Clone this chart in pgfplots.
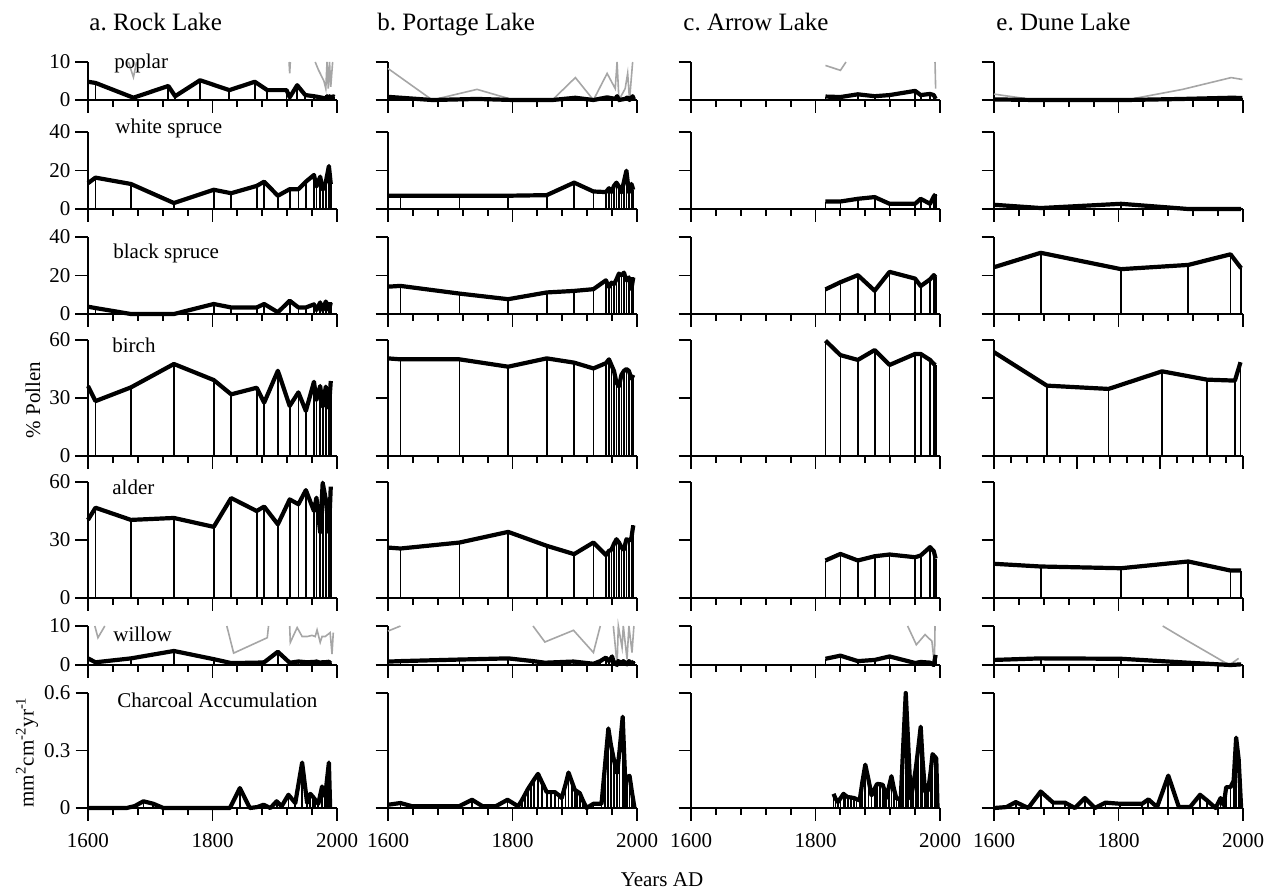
\documentclass[border=0pt]{standalone}
\usepackage{fontspec}
\setmainfont{Liberation Serif}
\usepackage{pgfplots}
\usepackage{pgfplotstable}
\pgfplotsset{compat=1.18}
\frenchspacing

\pgfplotsset{
  lake/.style={
    scale only axis, width=124.5pt, anchor=south west,
    xmin=1600, xmax=2000, ymin=0,
    axis x line=bottom, axis y line=left,
    axis line style={-, line width=0.95pt},
    tick align=outside,
    tick style={black, line width=0.95pt},
    major tick length=6.25pt, minor tick length=3.25pt,
    xtick={1600,1800,2000},
    minor xtick={1640,1680,1720,1760,1840,1880,1920,1960},
    xticklabels={}, yticklabels={},
    tick label style={font=\fontsize{10.5}{12}\selectfont},
    xticklabel style={yshift=-3pt},
    yticklabel style={xshift=1pt},
    clip=false, unbounded coords=jump,
  },
  pop/.style={lake, height=19pt, ymax=10, ytick={0,10}},
  spr/.style={lake, height=38.5pt, ymax=40, ytick={0,20,40}},
  big/.style={lake, height=58pt, ymax=60, ytick={0,30,60}},
  wil/.style={lake, height=19.5pt, ymax=10, ytick={0,10}},
  chr/.style={lake, height=57.5pt, ymax=0.6, ytick={0,0.3,0.6}, xticklabels={1600,1800,2000}},
  comb/.style={ycomb, black, line width=0.9pt, mark=none},
  curve/.style={black, line width=2.1pt, line join=round, mark=none},
  rare/.style={black!35, line width=0.8pt, mark=none},
}
\newcommand{\pan}[1]{\addplot[comb] table {#1};\addplot[curve] table {#1};}

\begin{document}
% ---------- a. Rock Lake ----------
\pgfplotstableread[row sep=crcr]{x y\\1600 4.8\\1612 4.5\\1673 0.6\\1729 3.7\\1740 1.0\\1780 5.2\\1827 2.6\\1868 4.8\\1888 2.6\\1919 2.6\\1924 0.7\\1936 3.9\\1949 1.3\\1963 1.0\\1970 0.8\\1979 0.5\\1982 0.3\\1984 1.0\\1986 0.3\\1988 1.0\\1990 0.35\\1993 1.0\\1996 0.8\\}\RLpop
\pgfplotstableread[row sep=crcr]{x y\\1665 10\\1673 6\\1678 10\\nan nan\\1923 10\\1924 7\\1925 10\\nan nan\\1965 10\\1970 8\\1979 5\\1982 3\\1984 10\\1986 3\\1988 10\\1990 3.5\\1993 10\\}\RLpopg
\pgfplotstableread[row sep=crcr]{x y\\1600 13.4\\1612 16.3\\1669 13\\1738 3.1\\1802 10\\1830 8.2\\1871 12\\1883 14.2\\1905 6.9\\1924 10.3\\1938 10.3\\1950 14.2\\1963 17.7\\1967 11.7\\1973 16.8\\1977 10\\1982 14\\1987 22.3\\1990 13\\}\RLws
\pgfplotstableread[row sep=crcr]{x y\\1600 3.8\\1612 3.1\\1669 0\\1738 0\\1802 5.2\\1830 3.4\\1871 3.4\\1883 5.2\\1905 0.9\\1924 6.9\\1938 3.4\\1950 3.4\\1963 5\\1967 2\\1973 6\\1977 2\\1982 6.5\\1987 2\\1990 6\\}\RLbs
\pgfplotstableread[row sep=crcr]{x y\\1600 36.2\\1612 28.4\\1669 35.5\\1738 47.6\\1802 39.3\\1830 31.9\\1871 35.3\\1883 27.6\\1905 44.1\\1924 25.9\\1938 32.9\\1950 23.3\\1963 38.4\\1967 29\\1973 36.2\\1977 25.5\\1982 35.9\\1987 24.7\\1990 38.8\\}\RLbi
\pgfplotstableread[row sep=crcr]{x y\\1600 40.4\\1612 46.7\\1669 40.4\\1738 41.4\\1802 36.8\\1830 51.7\\1871 45\\1883 47.3\\1905 38.1\\1924 51\\1938 48.5\\1950 55.8\\1963 45\\1967 51.9\\1973 33.8\\1977 59.6\\1982 51\\1987 33.8\\1990 57.6\\}\RLal
\pgfplotstableread[row sep=crcr]{x y\\1600 1.7\\1612 0.7\\1669 1.7\\1738 3.6\\1802 1.5\\1830 0.5\\1871 0.6\\1883 0.7\\1905 3.4\\1924 0.58\\1938 0.9\\1950 0.73\\1963 0.76\\1967 0.9\\1973 0.58\\1977 0.73\\1982 0.73\\1987 0.83\\1990 0.4\\}\RLwi
\pgfplotstableread[row sep=crcr]{x y\\1611 10\\1616 7\\1627 10\\nan nan\\1823 10\\1834 3.05\\1888 7\\1890 10\\nan nan\\1924 10\\1925 5.8\\1936 9.6\\1944 7.3\\1952 7.3\\1960 7.6\\1965 7.3\\1968 9\\1973 5.8\\1976 7.3\\1981 7.3\\1989 8.3\\1992 2.8\\1994 8.3\\}\RLwig
\pgfplotstableread[row sep=crcr]{x y\\1600 0\\1662 0\\1675 0.01\\1689 0.035\\1705 0.022\\1721 0\\1828 0\\1844 0.104\\1860 0\\1872 0.005\\1882 0.017\\1893 0\\1903 0.035\\1911 0.009\\1922 0.069\\1933 0.026\\1944 0.237\\1952 0.026\\1957 0.074\\1961 0.06\\1965 0.043\\1970 0.022\\1976 0.112\\1981 0.06\\1984 0.15\\1987 0.237\\1989 0\\}\RLch

% ---------- b. Portage Lake ----------
\pgfplotstableread[row sep=crcr]{x y\\1600 0.83\\1671 0\\1743 0.28\\1802 0\\1864 0\\1901 0.59\\1930 0\\1952 0.7\\1965 0.3\\1968 1.0\\1971 0\\1981 0.3\\1985 0.7\\1988 0\\1993 1.0\\1995 0.2\\}\PLpop
\pgfplotstableread[row sep=crcr]{x y\\1600 8.3\\1671 0\\1743 2.8\\1802 0\\1864 0\\1901 5.9\\1930 0\\1952 7\\1965 3\\1968 10\\1971 0\\1981 3\\1985 7\\1988 0\\1993 10\\}\PLpopg
\pgfplotstableread[row sep=crcr]{x y\\1600 6.9\\1620 6.9\\1715 6.9\\1793 6.9\\1855 7.2\\1899 13.7\\1930 9.1\\1950 8.8\\1955 10.8\\1959 8.8\\1963 12\\1967 13.7\\1971 11.7\\1975 8.6\\1979 14.2\\1983 19.9\\1987 8.6\\1991 13\\1994 10\\}\PLws
\pgfplotstableread[row sep=crcr]{x y\\1600 14.2\\1620 14.6\\1715 10.6\\1793 7.7\\1855 11.2\\1899 12\\1930 12.9\\1950 17.5\\1955 14\\1959 16.3\\1963 15.5\\1967 18\\1971 21\\1975 20\\1979 21.5\\1983 17.5\\1987 19\\1991 12.9\\1994 19\\}\PLbs
\pgfplotstableread[row sep=crcr]{x y\\1600 50.5\\1620 50\\1715 50\\1793 46.2\\1855 50.5\\1899 48.3\\1930 45.3\\1950 48\\1955 50\\1959 47\\1963 44\\1967 38\\1971 36\\1975 42\\1979 44\\1983 45\\1987 44\\1991 40\\1994 42\\}\PLbi
\pgfplotstableread[row sep=crcr]{x y\\1600 26.1\\1620 25.6\\1715 28.7\\1793 34.2\\1855 27\\1899 22.7\\1930 28.7\\1950 22.2\\1955 24.4\\1959 25\\1963 28\\1967 30.4\\1971 28.7\\1975 26.1\\1979 25\\1983 30.4\\1987 29.6\\1991 31\\1994 37.6\\}\PLal
\pgfplotstableread[row sep=crcr]{x y\\1600 0.87\\1620 1.0\\1715 1.4\\1793 1.7\\1833 1.0\\1852 0.59\\1898 0.89\\1930 0.32\\1941 1.0\\1950 1.9\\1955 1.0\\1960 2.2\\1962 1.0\\1968 0\\1970 1.0\\1976 0.45\\1978 1.0\\1984 0.15\\1987 1.0\\1992 0.32\\1995 1.0\\}\PLwi
\pgfplotstableread[row sep=crcr]{x y\\1600 8.7\\1620 10\\nan nan\\1833 10\\1852 5.9\\1898 8.9\\1930 3.2\\1941 10\\nan nan\\1962 10\\1968 0\\1970 10\\1976 4.5\\1978 10\\1984 1.5\\1987 10\\1992 3.2\\1995 10\\}\PLwig
\pgfplotstableread[row sep=crcr]{x y\\1600 0.017\\1620 0.026\\1639 0.009\\1714 0.009\\1735 0.043\\1752 0.009\\1773 0.009\\1792 0.043\\1809 0.009\\1815 0.04\\1820 0.07\\1825 0.1\\1830 0.125\\1835 0.15\\1841 0.178\\1848 0.13\\1855 0.083\\1862 0.083\\1868 0.083\\1874 0.068\\1879 0.052\\1885 0.12\\1890 0.185\\1895 0.14\\1900 0.095\\1904 0.086\\1908 0.078\\1913 0.04\\1919 0\\1930 0.022\\1943 0.022\\1948 0.2\\1954 0.415\\1958 0.33\\1963 0.25\\1968 0.182\\1972 0.3\\1977 0.476\\1981 0.147\\1984 0.16\\1988 0.168\\1992 0.08\\1996 0\\}\PLch

% ---------- c. Arrow Lake ----------
\pgfplotstableread[row sep=crcr]{x y\\1816 0.91\\1840 0.78\\1868 1.5\\1895 1.0\\1919 1.3\\1960 2.4\\1969 1.3\\1984 1.6\\1990 1.3\\1993 0.3\\}\ALpop
\pgfplotstableread[row sep=crcr]{x y\\1816 9.1\\1840 7.8\\1849 10\\nan nan\\1992 10\\1993 3\\}\ALpopg
\pgfplotstableread[row sep=crcr]{x y\\1816 3.9\\1840 3.9\\1868 5.3\\1895 6.2\\1919 2.7\\1960 2.7\\1969 5.3\\1984 2.7\\1990 6.5\\1993 7.7\\}\ALws
\pgfplotstableread[row sep=crcr]{x y\\1816 12.8\\1840 16.5\\1868 20.2\\1895 12.1\\1919 21.9\\1960 18.4\\1969 14.5\\1984 18\\1990 20.2\\1993 19\\}\ALbs
\pgfplotstableread[row sep=crcr]{x y\\1816 59.7\\1840 52.2\\1868 49.7\\1895 54.8\\1919 47.1\\1960 52.8\\1969 52.8\\1984 49.7\\1990 47.6\\1993 47.1\\}\ALbi
\pgfplotstableread[row sep=crcr]{x y\\1816 19.4\\1840 22.8\\1868 19.4\\1895 21.6\\1919 22.5\\1960 21.1\\1969 22\\1984 26.3\\1990 24.2\\1993 20.4\\}\ALal
\pgfplotstableread[row sep=crcr]{x y\\1816 1.6\\1840 2.4\\1868 1.0\\1895 1.3\\1919 2.2\\1960 0.52\\1969 0.78\\1984 0.61\\1990 0\\1993 2.6\\}\ALwi
\pgfplotstableread[row sep=crcr]{x y\\1948 10\\1962 5.2\\1976 7.8\\1987 6.1\\1991 0\\1992 10\\}\ALwig
\pgfplotstableread[row sep=crcr]{x y\\1829 0.074\\1832 0.05\\1836 0.031\\1840 0.05\\1845 0.074\\1848 0.065\\1852 0.057\\1857 0.055\\1862 0.052\\1866 0.046\\1871 0.04\\1875 0.13\\1880 0.226\\1885 0.15\\1890 0.066\\1895 0.1\\1899 0.126\\1904 0.124\\1908 0.121\\1911 0.09\\1914 0.052\\1918 0.11\\1922 0.166\\1926 0.1\\1930 0.048\\1934 0.05\\1937 0.052\\1941 0.33\\1945 0.6\\1949 0.33\\1953 0.048\\1957 0.12\\1961 0.203\\1965 0.31\\1969 0.424\\1972 0.25\\1976 0.086\\1979 0.09\\1981 0.091\\1985 0.19\\1988 0.281\\1991 0.27\\1994 0.259\\1996 0\\}\ALch

% ---------- e. Dune Lake ----------
\pgfplotstableread[row sep=crcr]{x y\\1600 0.16\\1667 0\\1812 0\\1903 0.28\\1981 0.59\\1999 0.54\\}\DLpop
\pgfplotstableread[row sep=crcr]{x y\\1600 1.55\\1667 0\\1812 0\\1903 2.8\\1981 5.9\\1999 5.4\\}\DLpopg
\pgfplotstableread[row sep=crcr]{x y\\1600 2.2\\1675 0.5\\1804 2.7\\1912 0\\1980 0\\1997 0\\}\DLws
\pgfplotstableread[row sep=crcr]{x y\\1600 24.3\\1675 31.8\\1804 23.3\\1912 25.5\\1980 31\\1997 23.8\\}\DLbs
\pgfplotstableread[row sep=crcr]{x y\\1600 53.7\\1685 36.4\\1784 34.7\\1870 43.8\\1942 39.5\\1987 39\\1996 48.5\\}\DLbi
\pgfplotstableread[row sep=crcr]{x y\\1600 17.7\\1675 16.3\\1804 15.4\\1912 18.9\\1980 14.2\\1997 14.2\\}\DLal
\pgfplotstableread[row sep=crcr]{x y\\1600 1.3\\1675 1.7\\1804 1.6\\1912 0.59\\1980 0\\1997 0.17\\}\DLwi
\pgfplotstableread[row sep=crcr]{x y\\1871 10\\1912 6.1\\1978 0\\1993 1.7\\}\DLwig
\pgfplotstableread[row sep=crcr]{x y\\1600 0\\1620 0.005\\1635 0.031\\1655 0\\1675 0.086\\1695 0.028\\1714 0.028\\1730 0\\1746 0.052\\1762 0\\1779 0.028\\1803 0.022\\1838 0.022\\1848 0.045\\1862 0.005\\1880 0.169\\1897 0.005\\1915 0.005\\1931 0.069\\1942 0.04\\1956 0\\1964 0.052\\1969 0.014\\1973 0.109\\1980 0.109\\1985 0.143\\1989 0.367\\1993 0.255\\1997 0\\}\DLch

\begin{tikzpicture}
\useasboundingbox (0,0) rectangle (635.5pt,-445.5pt);

% column a
\begin{axis}[pop, at={(44pt,-50pt)}, yticklabels={0,10}]
\addplot[rare] table {\RLpopg}; \pan{\RLpop}
\end{axis}
\begin{axis}[spr, at={(44pt,-104.5pt)}, yticklabels={0,20,40}]
\pan{\RLws}
\end{axis}
\begin{axis}[spr, at={(44pt,-157pt)}, yticklabels={0,20,40}]
\pan{\RLbs}
\end{axis}
\begin{axis}[big, at={(44pt,-228pt)}, yticklabels={0,30,60}]
\pan{\RLbi}
\end{axis}
\begin{axis}[big, at={(44pt,-299pt)}, yticklabels={0,30,60}]
\pan{\RLal}
\end{axis}
\begin{axis}[wil, at={(44pt,-332.5pt)}, yticklabels={0,10}]
\addplot[rare] table {\RLwig}; \pan{\RLwi}
\end{axis}
\begin{axis}[chr, at={(44pt,-404pt)}, yticklabels={0,0.3,0.6}]
\pan{\RLch}
\end{axis}

% column b
\begin{axis}[pop, at={(194pt,-50pt)}]
\addplot[rare] table {\PLpopg}; \pan{\PLpop}
\end{axis}
\begin{axis}[spr, at={(194pt,-104.5pt)}]
\pan{\PLws}
\end{axis}
\begin{axis}[spr, at={(194pt,-157pt)}]
\pan{\PLbs}
\end{axis}
\begin{axis}[big, at={(194pt,-228pt)}]
\pan{\PLbi}
\end{axis}
\begin{axis}[big, at={(194pt,-299pt)}]
\pan{\PLal}
\end{axis}
\begin{axis}[wil, at={(194pt,-332.5pt)}]
\addplot[rare] table {\PLwig}; \pan{\PLwi}
\end{axis}
\begin{axis}[chr, at={(194pt,-404pt)}]
\pan{\PLch}
\end{axis}

% column c
\begin{axis}[pop, at={(345.5pt,-50pt)}]
\addplot[rare] table {\ALpopg}; \pan{\ALpop}
\end{axis}
\begin{axis}[spr, at={(345.5pt,-104.5pt)}]
\pan{\ALws}
\end{axis}
\begin{axis}[spr, at={(345.5pt,-157pt)}]
\pan{\ALbs}
\end{axis}
\begin{axis}[big, at={(345.5pt,-228pt)}]
\pan{\ALbi}
\end{axis}
\begin{axis}[big, at={(345.5pt,-299pt)}]
\pan{\ALal}
\end{axis}
\begin{axis}[wil, at={(345.5pt,-332.5pt)}]
\addplot[rare] table {\ALwig}; \pan{\ALwi}
\end{axis}
\begin{axis}[chr, at={(345.5pt,-404pt)}]
\pan{\ALch}
\end{axis}

% column e
\begin{axis}[pop, at={(497pt,-50pt)}]
\addplot[rare] table {\DLpopg}; \pan{\DLpop}
\end{axis}
\begin{axis}[spr, at={(497pt,-104.5pt)}]
\pan{\DLws}
\end{axis}
\begin{axis}[spr, at={(497pt,-157pt)}]
\pan{\DLbs}
\end{axis}
\begin{axis}[big, at={(497pt,-228pt)},
  xtick={1600,1733.33,1866.67,2000},
  minor xtick={1626.67,1653.33,1680,1706.67,1760,1786.67,1813.33,1840,1893.33,1920,1946.67,1973.33}]
\pan{\DLbi}
\end{axis}
\begin{axis}[big, at={(497pt,-299pt)}]
\pan{\DLal}
\end{axis}
\begin{axis}[wil, at={(497pt,-332.5pt)}]
\addplot[rare] table {\DLwig}; \pan{\DLwi}
\end{axis}
\begin{axis}[chr, at={(497pt,-404pt)}]
\pan{\DLch}
\end{axis}

% titles and labels
\begin{scope}[every node/.style={inner sep=0pt}]
\node[anchor=base west, font=\fontsize{12.5}{15}\selectfont] at (44.5pt,-15pt) {a. Rock Lake};
\node[anchor=base west, font=\fontsize{12.5}{15}\selectfont] at (188.5pt,-15pt) {b. Portage Lake};
\node[anchor=base west, font=\fontsize{12.5}{15}\selectfont] at (341.5pt,-15pt) {c. Arrow Lake};
\node[anchor=base west, font=\fontsize{12.5}{15}\selectfont] at (498pt,-15pt) {e. Dune Lake};
\begin{scope}[every node/.append style={anchor=base west, font=\fontsize{10.5}{12}\selectfont}]
\node at (57pt,-34pt) {poplar};
\node at (57.5pt,-66.5pt) {white spruce};
\node at (56.5pt,-129pt) {black spruce};
\node at (56pt,-176pt) {birch};
\node at (56pt,-247pt) {alder};
\node at (56.5pt,-320.5pt) {willow};
\node at (58.5pt,-353.5pt) {Charcoal Accumulation};
\end{scope}
\node[rotate=90, font=\fontsize{10.5}{12}\selectfont] at (16.5pt,-200pt) {\% Pollen};
\node[rotate=90, font=\fontsize{10.5}{12}\selectfont] at (13.5pt,-376pt) {mm\textsuperscript{2}cm\textsuperscript{-2}yr\textsuperscript{-1}};
\node[anchor=base, font=\fontsize{10.5}{12}\selectfont] at (331pt,-443pt) {Years AD};
\end{scope}
\end{tikzpicture}
\end{document}
